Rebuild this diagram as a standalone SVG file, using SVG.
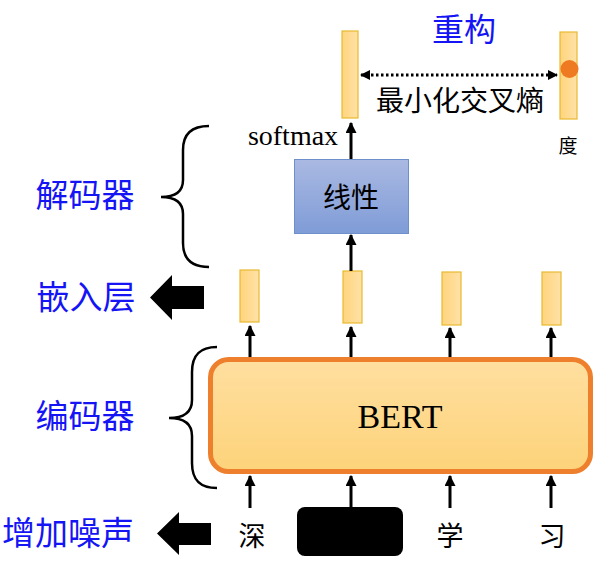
<svg xmlns="http://www.w3.org/2000/svg" width="600" height="561" viewBox="0 0 600 561">
<style>
.blue{font-family:"Noto Sans CJK SC","Liberation Sans",sans-serif;fill:#1414f5;text-anchor:middle;dominant-baseline:central}
.cjk{font-family:"Noto Sans CJK SC","Liberation Sans",sans-serif;fill:#000;text-anchor:middle;dominant-baseline:central}
.serif{font-family:"Liberation Serif","Times New Roman",serif;fill:#000}
.bar{fill:url(#barG);stroke:#e8b931;stroke-width:1.2}
.arr{stroke:#000;stroke-width:3;fill:none;marker-end:url(#ah)}
.brace{stroke:#000;stroke-width:2.5;fill:none}
</style>
<defs>
<linearGradient id="barG" x1="0" y1="0" x2="1" y2="0">
<stop offset="0" stop-color="#ffd47c"/>
<stop offset="1" stop-color="#ffe2a8"/>
</linearGradient>
<linearGradient id="bertG" x1="0" y1="0" x2="0" y2="1">
<stop offset="0" stop-color="#ffdfa0"/>
<stop offset="1" stop-color="#fdd37a"/>
</linearGradient>
<linearGradient id="linG" x1="0" y1="0" x2="0" y2="1">
<stop offset="0" stop-color="#aab9e2"/>
<stop offset="1" stop-color="#7f9cd7"/>
</linearGradient>
<marker id="ah" viewBox="0 0 10 10" refX="9" refY="5" markerWidth="11" markerHeight="11" markerUnits="userSpaceOnUse" orient="auto">
<path d="M0,0 L10,5 L0,10 Z" fill="#000"/>
</marker>
<marker id="ahd" viewBox="0 0 10 10" refX="9" refY="5" markerWidth="10" markerHeight="10" markerUnits="userSpaceOnUse" orient="auto-start-reverse">
<path d="M0,0 L10,5 L0,10 Z" fill="#000"/>
</marker>
</defs>

<g id="labels">
<text class="blue" x="85" y="193" font-size="33">解码器</text>
<text class="blue" x="86" y="295" font-size="33">嵌入层</text>
<text class="blue" x="85" y="414" font-size="33">编码器</text>
<text class="blue" x="68" y="531" font-size="33">增加噪声</text>
<text class="blue" x="464" y="27" font-size="32">重构</text>
</g>

<g id="braces">
<path class="brace" d="M209,126 C192,126 183,134 183,150 L183,180 C183,191 176,197 161,197 C176,197 183,203 183,214 L183,243 C183,259 192,267 209,267"/>
<path class="brace" d="M217,347 C200,347 192,355 192,372 L192,400 C192,412 185,418 169,418 C185,418 192,424 192,436 L192,463 C192,480 200,488 217,488"/>
</g>

<g id="block-arrows">
<polygon points="150,297.5 172,275 172,286 204,286 204,309 172,309 172,320" fill="#000"/>
<polygon points="157,533.5 179,512 179,523 211,523 211,545 179,545 179,555" fill="#000"/>
</g>

<g id="bert">
<rect x="210.5" y="359.5" width="380" height="112" rx="18" fill="url(#bertG)" stroke="#ee7f2d" stroke-width="5"/>
<text class="serif" x="400" y="428" font-size="34" text-anchor="middle">BERT</text>
</g>

<g id="linear">
<rect x="294.5" y="159.5" width="114" height="74" fill="url(#linG)" stroke="#6f8fcb" stroke-width="1"/>
<text class="cjk" x="351" y="196" font-size="28">线性</text>
</g>

<g id="embeddings">
<rect class="bar" x="240" y="270" width="19" height="52"/>
<rect class="bar" x="343" y="271" width="19" height="52"/>
<rect class="bar" x="442" y="272" width="19" height="53"/>
<rect class="bar" x="542" y="272" width="19" height="53"/>
</g>

<g id="outputs">
<rect class="bar" x="342" y="31" width="16" height="87"/>
<rect class="bar" x="560" y="32" width="17" height="87"/>
<circle cx="569.5" cy="69" r="9" fill="#ee7a22"/>
<text class="cjk" x="568" y="144" font-size="19">度</text>
<text class="cjk" x="460" y="99" font-size="28">最小化交叉熵</text>
<text class="serif" x="293" y="145" font-size="28" text-anchor="middle">softmax</text>
</g>

<g id="inputs">
<text class="cjk" x="252" y="534" font-size="27">深</text>
<rect x="297" y="507" width="106" height="49" rx="8" fill="#000"/>
<text class="cjk" x="450" y="534" font-size="27">学</text>
<text class="cjk" x="552" y="534" font-size="27">习</text>
</g>

<g id="connectors">
<line class="arr" x1="250" y1="508" x2="250" y2="476"/>
<line class="arr" x1="351" y1="507" x2="351" y2="476"/>
<line class="arr" x1="450" y1="508" x2="450" y2="476"/>
<line class="arr" x1="551" y1="508" x2="551" y2="476"/>
<line class="arr" x1="250" y1="357" x2="250" y2="326"/>
<line class="arr" x1="351" y1="357" x2="351" y2="327"/>
<line class="arr" x1="450" y1="357" x2="450" y2="328"/>
<line class="arr" x1="551" y1="357" x2="551" y2="328"/>
<line class="arr" x1="351" y1="271" x2="351" y2="235"/>
<line class="arr" x1="351" y1="159" x2="351" y2="123"/>
<line x1="361" y1="75" x2="557" y2="75" stroke="#000" stroke-width="3" stroke-dasharray="2.5 2.5" marker-start="url(#ahd)" marker-end="url(#ahd)"/>
</g>
</svg>
